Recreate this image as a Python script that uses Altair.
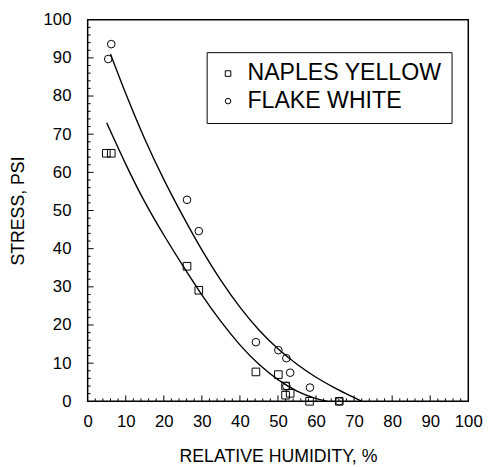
import altair as alt
import pandas as pd

# ---- data ----
naples_x = [4.9, 6.2, 26.1, 29.2, 44.2, 50.1, 52.0, 52.0, 53.2, 58.3, 66.1]
naples_y = [65.0, 65.0, 35.4, 29.1, 7.7, 7.0, 4.0, 1.6, 2.1, 0.0, 0.0]
flake_x = [5.4, 6.2, 26.1, 29.2, 44.2, 50.1, 52.2, 53.2, 52.2, 58.4, 66.1]
flake_y = [89.7, 93.6, 52.8, 44.6, 15.5, 13.4, 11.3, 7.5, 4.0, 3.6, 0.0]

# fitted curves
naples_curve_x = [5, 10, 15, 20, 25, 30, 35, 40, 45, 50, 55, 60, 63]
naples_curve_y = [73, 62, 52, 43.5, 35.5, 27.8, 20.8, 14.6, 9.5, 5.5, 2.5, 0.6, 0]
flake_curve_x = [6, 10, 15, 20, 25, 30, 35, 40, 45, 50, 55, 60, 65, 70, 72]
flake_curve_y = [91, 80.5, 68.5, 58, 48.5, 39.5, 31.5, 24.5, 18.5, 13.6, 9.6, 6.2, 3.4, 1.0, 0]

series = ["NAPLES YELLOW", "FLAKE WHITE"]
major_ticks = [10, 20, 30, 40, 50, 60, 70, 80, 90]
minor_ticks = [v for v in range(2, 100, 2) if v % 10 != 0]
axis_values = [0, 10, 20, 30, 40, 50, 60, 70, 80, 90, 100]

pts = pd.DataFrame({
    "x": naples_x + flake_x,
    "y": naples_y + flake_y,
    "s": [series[0]] * len(naples_x) + [series[1]] * len(flake_x),
})
curves = pd.DataFrame({
    "x": naples_curve_x + flake_curve_x,
    "y": naples_curve_y + flake_curve_y,
    "s": [series[0]] * len(naples_curve_x) + [series[1]] * len(flake_curve_x),
})
majors = pd.DataFrame({"v": major_ticks})
minors = pd.DataFrame({"v": minor_ticks})

W, H = 387, 388
FONT = "Liberation Sans"

xscale = alt.Scale(domain=[0, 100], nice=False, zero=False)
yscale = alt.Scale(domain=[0, 100], nice=False, zero=False)

xaxis = alt.Axis(values=axis_values, tickSize=0, domain=False, grid=False,
                 labelOverlap=False, labelFlush=False,
                 labelFontSize=17, labelPadding=13, labelFont=FONT, labelColor="black",
                 title="RELATIVE HUMIDITY, %", titleFont=FONT, titleFontSize=18,
                 titleFontWeight="normal", titleColor="black",
                 titleY=56, titleBaseline="middle")
yaxis = alt.Axis(values=axis_values, tickSize=0, domain=False, grid=False,
                 labelOverlap=False, labelFlush=False,
                 labelFontSize=17, labelPadding=17, labelFont=FONT, labelColor="black",
                 title="STRESS, PSI", titleFont=FONT, titleFontSize=18,
                 titleFontWeight="normal", titleColor="black",
                 titleX=-70, titleY=H / 2, titleAngle=-90,
                 titleAlign="center", titleBaseline="middle")

points = alt.Chart(pts).mark_point(filled=False, color="black", strokeWidth=1, size=60, opacity=1).encode(
    x=alt.X("x:Q", scale=xscale, axis=xaxis),
    y=alt.Y("y:Q", scale=yscale, axis=yaxis),
    shape=alt.Shape("s:N", sort=series,
                    scale=alt.Scale(domain=series, range=["square", "circle"]),
                    legend=alt.Legend(title=None, orient="none", legendX=121, legendY=33,
                                      strokeColor="black", fillColor="white", padding=10,
                                      labelFontSize=23.5, labelFont=FONT, labelColor="black",
                                      labelLimit=0,
                                      symbolSize=32, symbolStrokeColor="black",
                                      symbolStrokeWidth=1, symbolFillColor="transparent",
                                      labelOffset=8, rowPadding=3)),
)

lines = alt.Chart(curves).mark_line(color="black", strokeWidth=1.4, interpolate="basis").encode(
    x=alt.X("x:Q", scale=xscale, axis=xaxis),
    y=alt.Y("y:Q", scale=yscale, axis=yaxis),
    detail="s:N",
)

xmaj = alt.Chart(majors).mark_rule(color="black", strokeWidth=1).encode(
    x=alt.X("v:Q", scale=xscale, axis=xaxis), y=alt.value(H), y2=alt.value(H - 6))
xmin = alt.Chart(minors).mark_rule(color="black", strokeWidth=1).encode(
    x=alt.X("v:Q", scale=xscale, axis=xaxis), y=alt.value(H), y2=alt.value(H - 3))
ymaj = alt.Chart(majors).mark_rule(color="black", strokeWidth=1).encode(
    y=alt.Y("v:Q", scale=yscale, axis=yaxis), x=alt.value(0), x2=alt.value(6))
ymin = alt.Chart(minors).mark_rule(color="black", strokeWidth=1).encode(
    y=alt.Y("v:Q", scale=yscale, axis=yaxis), x=alt.value(0), x2=alt.value(3))

chart = alt.layer(xmaj, xmin, ymaj, ymin, lines, points).properties(
    width=W, height=H,
    autosize=alt.AutoSizeParams(type="none"),
    padding={"left": 81, "top": 8, "right": 17, "bottom": 70},
    background="white",
).configure_view(stroke="black", strokeWidth=1.5)

chart.save("out.html", embed_options={"renderer": "svg", "actions": False})
